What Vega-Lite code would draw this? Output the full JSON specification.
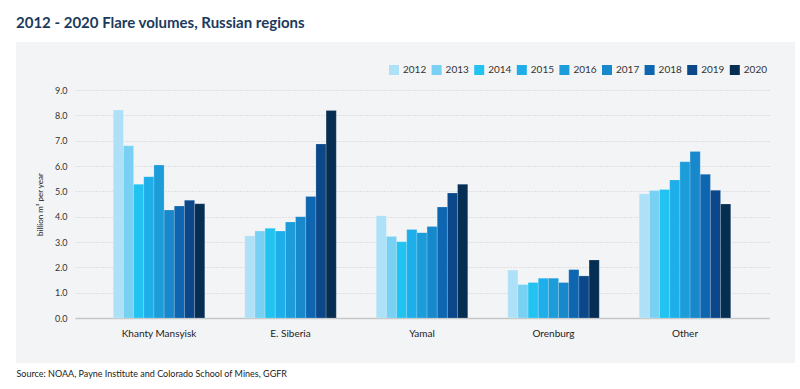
{
  "$schema": "https://vega.github.io/schema/vega-lite/v6.json",
  "width": 779,
  "height": 321,
  "padding": {"left": 16, "right": 5, "top": 42, "bottom": 26},
  "autosize": {"type": "none"},
  "background": "#ffffff",
  "title": {
    "text": "2012 - 2020 Flare volumes, Russian regions",
    "anchor": "start",
    "frame": "group",
    "font": "Lato",
    "fontSize": 15,
    "fontWeight": "bold",
    "color": "#1b3a5c",
    "offset": 11
  },
  "config": {
    "view": {"fill": "#f3f4f6", "stroke": null},
    "font": "Lato"
  },
  "data": {
    "values": [
      {"region": "Khanty Mansyisk", "year": "2012", "value": 8.21},
      {"region": "Khanty Mansyisk", "year": "2013", "value": 6.80},
      {"region": "Khanty Mansyisk", "year": "2014", "value": 5.28},
      {"region": "Khanty Mansyisk", "year": "2015", "value": 5.58},
      {"region": "Khanty Mansyisk", "year": "2016", "value": 6.04},
      {"region": "Khanty Mansyisk", "year": "2017", "value": 4.26},
      {"region": "Khanty Mansyisk", "year": "2018", "value": 4.42},
      {"region": "Khanty Mansyisk", "year": "2019", "value": 4.65},
      {"region": "Khanty Mansyisk", "year": "2020", "value": 4.51},
      {"region": "E. Siberia", "year": "2012", "value": 3.24},
      {"region": "E. Siberia", "year": "2013", "value": 3.43},
      {"region": "E. Siberia", "year": "2014", "value": 3.54},
      {"region": "E. Siberia", "year": "2015", "value": 3.43},
      {"region": "E. Siberia", "year": "2016", "value": 3.79},
      {"region": "E. Siberia", "year": "2017", "value": 4.00},
      {"region": "E. Siberia", "year": "2018", "value": 4.80},
      {"region": "E. Siberia", "year": "2019", "value": 6.87},
      {"region": "E. Siberia", "year": "2020", "value": 8.19},
      {"region": "Yamal", "year": "2012", "value": 4.04},
      {"region": "Yamal", "year": "2013", "value": 3.22},
      {"region": "Yamal", "year": "2014", "value": 3.01},
      {"region": "Yamal", "year": "2015", "value": 3.49},
      {"region": "Yamal", "year": "2016", "value": 3.37},
      {"region": "Yamal", "year": "2017", "value": 3.61},
      {"region": "Yamal", "year": "2018", "value": 4.38},
      {"region": "Yamal", "year": "2019", "value": 4.93},
      {"region": "Yamal", "year": "2020", "value": 5.28},
      {"region": "Orenburg", "year": "2012", "value": 1.89},
      {"region": "Orenburg", "year": "2013", "value": 1.32},
      {"region": "Orenburg", "year": "2014", "value": 1.40},
      {"region": "Orenburg", "year": "2015", "value": 1.57},
      {"region": "Orenburg", "year": "2016", "value": 1.57},
      {"region": "Orenburg", "year": "2017", "value": 1.40},
      {"region": "Orenburg", "year": "2018", "value": 1.91},
      {"region": "Orenburg", "year": "2019", "value": 1.66},
      {"region": "Orenburg", "year": "2020", "value": 2.29},
      {"region": "Other", "year": "2012", "value": 4.90},
      {"region": "Other", "year": "2013", "value": 5.03},
      {"region": "Other", "year": "2014", "value": 5.07},
      {"region": "Other", "year": "2015", "value": 5.45},
      {"region": "Other", "year": "2016", "value": 6.17},
      {"region": "Other", "year": "2017", "value": 6.57},
      {"region": "Other", "year": "2018", "value": 5.67},
      {"region": "Other", "year": "2019", "value": 5.04},
      {"region": "Other", "year": "2020", "value": 4.50}
    ]
  },
  "mark": {"type": "bar", "stroke": "#ffffff", "strokeWidth": 0.5, "strokeOpacity": 0.35},
  "encoding": {
    "x": {
      "field": "region",
      "type": "nominal",
      "sort": ["Khanty Mansyisk", "E. Siberia", "Yamal", "Orenburg", "Other"],
      "scale": {"range": [59, 753], "paddingInner": 0.304, "paddingOuter": 0.291},
      "axis": {
        "title": "Source: NOAA, Payne Institute and Colorado School of Mines, GGFR",
        "titleFont": "Lato",
        "titleFontSize": 9,
        "titleFontWeight": "normal",
        "titleColor": "#222222",
        "titleAnchor": "start",
        "titleAlign": "left",
        "titleBaseline": "top",
        "titleX": 0,
        "titleY": 51,
        "offset": -45,
        "labelAngle": 0,
        "labelFontSize": 10,
        "labelColor": "#222222",
        "labelPadding": 10,
        "ticks": false,
        "domainColor": "#c4c6c8",
        "domainWidth": 1.5,
        "grid": false
      }
    },
    "xOffset": {
      "field": "year",
      "type": "nominal",
      "scale": {"paddingInner": 0, "paddingOuter": 0}
    },
    "y": {
      "field": "value",
      "type": "quantitative",
      "scale": {"domain": [0, 9], "range": [276, 48], "nice": false, "zero": true},
      "axis": {
        "title": "billion m³ per year",
        "titleFontSize": 8,
        "titleFontWeight": "normal",
        "titleColor": "#222222",
        "titlePadding": 10,
        "offset": -59,
        "values": [0, 1, 2, 3, 4, 5, 6, 7, 8, 9],
        "format": ".1f",
        "labelFontSize": 9,
        "labelColor": "#333333",
        "labelPadding": 8,
        "ticks": false,
        "domain": false,
        "gridColor": "#c9ccd0",
        "gridDash": [1, 2],
        "gridWidth": 1
      }
    },
    "color": {
      "field": "year",
      "type": "nominal",
      "scale": {
        "domain": ["2012", "2013", "2014", "2015", "2016", "2017", "2018", "2019", "2020"],
        "range": ["#aee1f7", "#78d1f3", "#22c3f0", "#1eaee9", "#1c9dd9", "#1788cc", "#0e66b0", "#0b4789", "#062e52"]
      },
      "legend": {
        "title": null,
        "orient": "none",
        "legendX": 373,
        "legendY": 23,
        "direction": "horizontal",
        "columns": 9,
        "columnPadding": 4.6,
        "symbolType": "square",
        "symbolSize": 100,
        "symbolStrokeWidth": 0,
        "labelFontSize": 10,
        "labelColor": "#333333",
        "labelOffset": 4
      }
    }
  }
}
